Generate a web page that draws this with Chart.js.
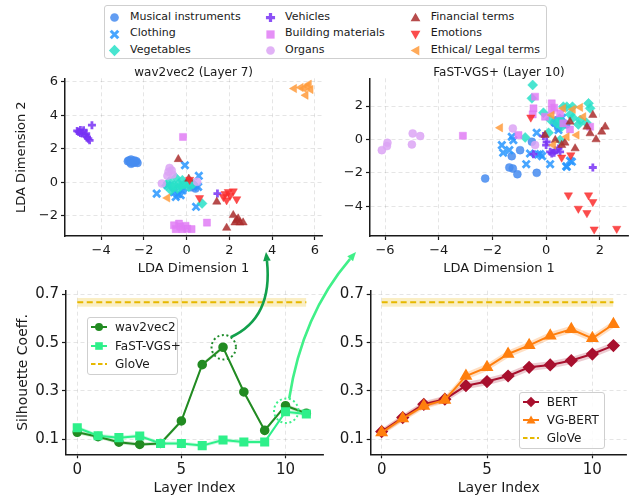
<!DOCTYPE html>
<html>
<head>
<meta charset="utf-8">
<script src="https://cdn.jsdelivr.net/npm/chart.js@4.4.1/dist/chart.umd.min.js"></script>
<style>
  body { margin: 0; background: #fff; }
  #fig { position: relative; width: 636px; height: 497px; overflow: hidden; font-family: "DejaVu Sans", sans-serif; color: #1a1a1a; }
  #fig canvas { position: absolute; }
  .box { position: absolute; border: 1px solid #cfcfcf; border-radius: 3px; background: rgba(255,255,255,0.85); box-sizing: border-box; }
  .txt { position: absolute; white-space: nowrap; line-height: 1; transform: translateY(-50%); }
  .mk { position: absolute; overflow: visible; }
</style>
</head>
<body>
<div id="fig">
  <canvas id="tl" width="330" height="216" style="left:0;top:60px;width:330px;height:216px"></canvas>
  <canvas id="tr" width="306" height="216" style="left:330px;top:60px;width:306px;height:216px"></canvas>
  <canvas id="bl" width="330" height="219" style="left:0;top:278px;width:330px;height:219px"></canvas>
  <canvas id="br" width="306" height="219" style="left:330px;top:278px;width:306px;height:219px"></canvas>
  <canvas id="over" width="636" height="497" style="left:0;top:0;width:636px;height:497px;pointer-events:none"></canvas>
</div>
<script>
Chart.defaults.font.family = "'DejaVu Sans', sans-serif";
Chart.defaults.color = '#1a1a1a';

// categories of the LDA scatter plots
const cats = ["Musical instruments", "Clothing", "Vegetables", "Vehicles", "Building materials", "Organs", "Financial terms", "Emotions", "Ethical/ Legal terms"];
const catColors = ['rgba(70,140,240,0.85)', 'rgba(40,150,255,0.85)', 'rgba(40,225,200,0.85)', 'rgba(120,50,245,0.85)', 'rgba(225,125,245,0.85)', 'rgba(220,165,245,0.85)', 'rgba(170,45,45,0.85)', 'rgba(250,45,45,0.85)', 'rgba(255,155,60,0.85)'];
const catStyles = ['circle', 'crossRot', 'rectRot', 'cross', 'rect', 'circle', 'triangle', 'triangle', 'triangle'];
const catShapes = ['circle', 'x', 'diamond', 'plus', 'square', 'circle', 'up', 'down', 'left'];
const catRot = [0, 0, 0, 0, 0, 0, 0, 180, 270];
const catRadius = [4, 5, 5, 4, 5, 4, 4.8, 4.8, 4.8];
const catBorder = [0.5, 2.8, 0.5, 2.8, 0.5, 0.5, 0.5, 0.5, 0.5];

// wav2vec2 (Layer 7), [LDA dim 1, LDA dim 2]
const w2v_music = [[-2.75,1.25],[-2.7,1.3],[-2.65,1.2],[-2.6,1.35],[-2.55,1.2],[-2.5,1.25],[-2.45,1.3],[-2.4,1.2],[-2.35,1.25],[-2.3,1.15],[-2.5,1.15],[-2.6,1.1],[0.41,-0.38],[0.34,-0.2],[0.2,-0.3]];
const w2v_cloth = [[-0.08,1.01],[0.57,0.38],[-1.4,-0.68],[0.44,-1.47],[-0.28,-0.78],[-0.51,-0.88],[-0.2,-0.49],[0.26,-0.18],[0.54,-0.28],[-0.9,-0.18],[-0.6,-0.6],[-0.4,-0.7],[-0.15,-0.35]];
const w2v_veg = [[-0.82,0.02],[-0.59,-0.18],[-0.36,-0.08],[-0.12,-0.14],[0.1,-0.28],[-0.74,-0.48],[-0.43,-0.38],[-0.2,0.12],[0.18,0.02],[0.72,-1.27],[-0.51,0.26],[-0.65,-0.3],[-0.3,-0.25],[0.0,-0.05],[0.3,-0.1],[-0.95,-0.2]];
const w2v_vehic = [[-5.12,3.06],[-4.97,3.12],[-4.82,3.1],[-4.89,2.9],[-4.74,2.8],[-4.66,2.7],[-4.54,2.5],[-4.97,2.94],[-4.7,2.9],[-4.43,3.4],[-5.05,3.0],[-4.6,2.6],[1.44,-0.68]];
const w2v_build = [[-0.17,2.7],[-0.36,-2.47],[-0.51,-2.8],[-0.2,-2.8],[0.03,-2.77],[0.23,-2.8],[-0.59,-2.57],[-0.05,-2.6],[0.95,-2.41],[-0.3,-2.65]];
const w2v_organ = [[-0.8,0.85],[-0.85,0.62],[-0.66,0.46],[-0.9,0.38],[-1.16,-0.08],[0.49,0.02],[-0.7,0.7]];
const w2v_fin = [[-0.39,1.37],[1.41,-1.17],[2.18,-1.97],[2.34,-2.27],[2.49,-2.41],[2.64,-2.41],[2.26,-2.41],[1.87,-2.73],[2.41,-2.17],[0.1,0.2]];
const w2v_emo = [[0.14,0.15],[0.6,-0.94],[1.95,-0.58],[2.18,-0.54],[1.72,-0.88],[1.87,-1.07],[2.34,-1.01],[2.03,-0.8],[1.8,-0.7]];
const w2v_eth = [[5.03,5.59],[5.34,5.65],[5.64,5.73],[5.8,5.53],[5.57,5.19],[5.49,5.6],[5.72,5.85],[-0.9,-0.94]];

// FaST-VGS+ (Layer 10)
const fast_music = [[-0.97,-0.64],[-1.37,-1.68],[-1.24,-1.74],[-1.07,-2.08],[-0.35,-2.0],[-2.27,-2.34],[-0.53,-0.14],[0.4,1.16],[-1.28,-1.0],[0.3,1.0],[0.55,1.1],[0.75,0.9],[0.45,0.7]];
const fast_cloth = [[-1.65,-0.34],[-1.28,0.16],[-1.22,-0.04],[-1.37,-0.64],[-1.6,-0.8],[-0.35,0.4],[-0.6,-0.84],[-0.22,-0.88],[-0.15,-1.0],[-0.74,-1.48],[0.15,-1.48],[0.75,-1.6],[0.89,-1.28],[0.46,0.56],[0.96,-1.34],[0.77,-1.64],[0.6,1.3],[0.35,1.0],[-0.3,-0.9]];
const fast_veg = [[-0.5,3.26],[-0.53,2.46],[-0.1,1.6],[0.15,1.2],[1.58,2.16],[1.64,1.86],[0.77,1.96],[0.52,1.16],[0.58,0.76],[0.09,0.4],[-0.78,0.12],[0.52,-0.04],[1.27,1.16],[1.2,0.9],[0.4,0.96],[1.0,1.3],[0.9,1.5],[1.5,1.0],[0.98,1.96],[0.64,1.96]];
const fast_vehic = [[-0.47,-0.88],[0.02,-0.14],[0.15,-0.74],[0.34,-0.64],[0.52,-0.74],[0.0,-0.34],[0.21,-0.84],[0.46,-0.54],[1.74,-1.68],[0.3,-0.8],[-0.1,0.2]];
const fast_build = [[-0.41,2.56],[-0.47,1.86],[0.21,2.16],[0.21,1.76],[0.52,1.56],[-0.04,1.36],[-1.03,0.26],[1.64,0.76],[0.64,0.96],[0.89,0.6],[-3.1,0.22],[-0.5,1.5],[0.3,1.9]];
const fast_organ = [[-4.97,0.36],[-4.69,0.2],[-5.0,-0.3],[-5.91,-0.2],[-5.93,-0.4],[-6.12,-0.64],[-1.24,0.66],[-0.41,-0.34]];
const fast_fin = [[1.74,1.46],[2.2,0.76],[2.07,0.46],[1.86,0.0],[1.52,0.76],[1.64,0.36],[1.08,-0.54],[0.89,1.06],[0.34,-0.04],[0.58,-0.34],[-0.04,0.26],[0.7,-0.2]];
const fast_emo = [[-0.57,1.32],[0.58,-1.08],[0.92,-0.94],[0.83,-3.34],[1.58,-3.34],[1.74,-3.74],[1.2,-4.14],[1.52,-4.4],[1.79,-5.38],[2.63,-5.34]];
const fast_eth = [[-1.71,0.7],[1.27,1.92],[0.21,1.46],[0.77,0.16],[1.14,0.26],[1.39,1.36],[0.64,1.86],[0.27,-0.34],[1.0,1.8]];

// silhouette coefficients per layer
const layers = [0, 1, 2, 3, 4, 5, 6, 7, 8, 9, 10, 11];
const wav2vecSil = [0.129, 0.111, 0.088, 0.079, 0.083, 0.176, 0.409, 0.481, 0.296, 0.137, 0.239, 0.208];
const wav2vecErr = [0.008, 0.008, 0.008, 0.008, 0.008, 0.008, 0.008, 0.008, 0.008, 0.008, 0.008, 0.008];
const fastSil = [0.148, 0.115, 0.107, 0.114, 0.083, 0.083, 0.074, 0.097, 0.089, 0.089, 0.214, 0.205];
const fastErr = [0.008, 0.008, 0.008, 0.008, 0.008, 0.008, 0.008, 0.008, 0.008, 0.008, 0.008, 0.008];
const bertSil = [0.132, 0.19, 0.245, 0.266, 0.322, 0.339, 0.362, 0.398, 0.408, 0.426, 0.453, 0.488];
const bertErr = [0.012, 0.013, 0.013, 0.014, 0.015, 0.015, 0.015, 0.015, 0.015, 0.015, 0.015, 0.015];
const vgbertSil = [0.128, 0.186, 0.238, 0.263, 0.362, 0.398, 0.453, 0.489, 0.529, 0.555, 0.518, 0.576];
const vgbertErr = [0.012, 0.013, 0.013, 0.014, 0.015, 0.015, 0.015, 0.015, 0.015, 0.015, 0.015, 0.015];
const gloveX = [0, 11];
const gloveSil = [0.667, 0.667];
const gloveErr = [0.018, 0.018];

const silTicks = [0.1, 0.3, 0.5, 0.7];
const layerTicks = [0, 5, 10];

const minusFmt = v => v < 0 ? '\u2212' + Math.abs(v) : String(v);

// title centred over the plot area (matplotlib style)
const areaTitle = {
  id: 'areaTitle',
  afterDraw(chart, args, opts) {
    if (!opts.text) return;
    const {ctx, chartArea} = chart;
    ctx.save();
    ctx.font = "12px 'DejaVu Sans'";
    ctx.fillStyle = '#1a1a1a';
    ctx.textAlign = 'center';
    ctx.textBaseline = 'middle';
    ctx.fillText(opts.text, (chartArea.left + chartArea.right) / 2, chartArea.top - opts.gap);
    ctx.restore();
  }
};

function axisOpts(range, ticks, fmt, tickSize, title, titleSize, size, dir) {
  return {
    type: 'linear', min: range[0], max: range[1],
    afterBuildTicks: s => { s.ticks = ticks.map(v => ({value: v})); },
    afterFit: s => { if (dir === 'x') s.height = size; else s.width = size; },
    ticks: { callback: fmt, font: {size: tickSize}, color: '#1a1a1a', padding: 3, maxRotation: 0, autoSkip: false },
    grid: { color: 'rgba(0,0,0,0.13)', lineWidth: 0.8, tickColor: '#1a1a1a', tickLength: 4, tickWidth: 1.2, tickBorderDash: [] },
    border: { display: true, color: '#1a1a1a', width: 1.5, dash: [4, 3] },
    title: { display: !!title, text: title, font: {size: titleSize}, padding: 0, color: '#1a1a1a' }
  };
}

function scatterChart(id, groups, xr, yr, xt, yt, pad, yW, title, yTitle) {
  const sets = groups.map((pts, i) => ({
    label: cats[i],
    data: pts.map(p => ({x: p[0], y: p[1]})),
    pointStyle: catStyles[i],
    pointRotation: catRot[i],
    pointRadius: catRadius[i],
    pointBorderWidth: catBorder[i],
    pointBackgroundColor: catColors[i],
    pointBorderColor: catColors[i],
    order: cats.length - i
  }));
  return new Chart(document.getElementById(id), {
    type: 'scatter',
    data: { datasets: sets },
    options: {
      responsive: false, animation: false, devicePixelRatio: 1,
      layout: { padding: pad },
      plugins: { legend: {display: false}, tooltip: {enabled: false}, areaTitle: {text: title, gap: 5} },
      scales: {
        x: axisOpts(xr, xt, minusFmt, 13, 'LDA Dimension 1', 13, 40, 'x'),
        y: axisOpts(yr, yt, minusFmt, 13, yTitle, 13, yW, 'y')
      }
    },
    plugins: [areaTitle]
  });
}

const pts = (xs, ys) => xs.map((x, i) => ({x: x, y: ys[i]}));

function bandSets(xs, vals, errs, fill, order) {
  return [
    { data: pts(xs, vals.map((v, i) => v + errs[i])), borderWidth: 0, pointRadius: 0, fill: '+1', backgroundColor: fill, order: order },
    { data: pts(xs, vals.map((v, i) => v - errs[i])), borderWidth: 0, pointRadius: 0, fill: false, order: order }
  ];
}

function lineChart(id, sets, xr, pad, yW, yTitle) {
  return new Chart(document.getElementById(id), {
    type: 'line',
    data: { datasets: sets },
    options: {
      responsive: false, animation: false, devicePixelRatio: 1,
      layout: { padding: pad },
      plugins: { legend: {display: false}, tooltip: {enabled: false} },
      elements: { line: { tension: 0 } },
      scales: {
        x: axisOpts(xr, layerTicks, v => String(v), 15, 'Layer Index', 14, 42.7, 'x'),
        y: axisOpts([0.038, 0.715], silTicks, v => v.toFixed(1), 15, yTitle, 14, yW, 'y')
      }
    }
  });
}

const chartTL = scatterChart('tl', [w2v_music, w2v_cloth, w2v_veg, w2v_vehic, w2v_build, w2v_organ, w2v_fin, w2v_emo, w2v_eth],
  [-5.69, 6.34], [-3.21, 6.2], [-4, -2, 0, 2, 4, 6], [-2, 0, 2, 4, 6],
  {left: 13.9, right: 5, top: 18.3, bottom: 0}, 51.1, 'wav2vec2 (Layer 7)', 'LDA Dimension 2');

const chartTR = scatterChart('tr', [fast_music, fast_cloth, fast_veg, fast_vehic, fast_build, fast_organ, fast_fin, fast_emo, fast_eth],
  [-6.56, 3.05], [-5.78, 3.66], [-6, -4, -2, 0, 2], [-4, -2, 0, 2],
  {left: 0, right: 8, top: 18.3, bottom: 0}, 40, 'FaST-VGS+ (Layer 10)', '');

const chartBL = lineChart('bl', [
  ...bandSets(gloveX, gloveSil, gloveErr, 'rgba(240,200,60,0.3)', 10),
  ...bandSets(layers, wav2vecSil, wav2vecErr, 'rgba(34,139,34,0.2)', 9),
  ...bandSets(layers, fastSil, fastErr, 'rgba(46,240,138,0.25)', 8),
  { label: 'GloVe', data: pts(gloveX, gloveSil), borderColor: '#e6b800', borderWidth: 2, borderDash: [6, 3.5], pointRadius: 0, order: 3 },
  { label: 'wav2vec2', data: pts(layers, wav2vecSil), borderColor: '#228b22', backgroundColor: '#228b22', borderWidth: 2, pointStyle: 'circle', pointRadius: 3.8, order: 1 },
  { label: 'FaST-VGS+', data: pts(layers, fastSil), borderColor: '#2ef08a', backgroundColor: '#2ef08a', borderWidth: 2, pointStyle: 'rect', pointRadius: 5, order: 0 }
], [-0.54, 11.8], {left: 15.1, right: 5, top: 12.7, bottom: 0}, 50.9, 'Silhouette Coeff.');

const chartBR = lineChart('br', [
  ...bandSets(gloveX, gloveSil, gloveErr, 'rgba(240,200,60,0.3)', 10),
  ...bandSets(layers, bertSil, bertErr, 'rgba(168,16,46,0.22)', 9),
  ...bandSets(layers, vgbertSil, vgbertErr, 'rgba(255,127,14,0.25)', 8),
  { label: 'GloVe', data: pts(gloveX, gloveSil), borderColor: '#e6b800', borderWidth: 2, borderDash: [6, 3.5], pointRadius: 0, order: 3 },
  { label: 'BERT', data: pts(layers, bertSil), borderColor: '#a8102e', backgroundColor: '#a8102e', borderWidth: 2, pointStyle: 'rectRot', pointRadius: 5.2, order: 1 },
  { label: 'VG-BERT', data: pts(layers, vgbertSil), borderColor: '#ff7f0e', backgroundColor: '#ff7f0e', borderWidth: 2, pointStyle: 'triangle', pointRadius: 5.5, order: 0 }
], [-0.52, 11.63], {left: 0, right: 9.3, top: 12.7, bottom: 0}, 40.7, '');

// ---------- html legends ----------
const fig = document.getElementById('fig');
const over = document.getElementById('over');

function markerSvg(shape, color, line, dash, px) {
  let s = '';
  if (line) {
    s += '<line x1="0" y1="8" x2="16" y2="8" stroke="' + color + '" stroke-width="2"' + (dash ? ' stroke-dasharray="4.5,2.5"' : '') + '/>';
  }
  const o = line ? 2 : 0;
  const t = (x, y) => (x + o) + ',' + (y + o);
  if (shape === 'circle') s += '<circle cx="' + (6 + o) + '" cy="' + (6 + o) + '" r="4" fill="' + color + '"/>';
  if (shape === 'x') s += '<path d="M' + t(2.5, 2.5) + 'L' + t(9.5, 9.5) + 'M' + t(9.5, 2.5) + 'L' + t(2.5, 9.5) + '" stroke="' + color + '" stroke-width="2.8"/>';
  if (shape === 'plus') s += '<path d="M' + t(6, 1.8) + 'L' + t(6, 10.2) + 'M' + t(1.8, 6) + 'L' + t(10.2, 6) + '" stroke="' + color + '" stroke-width="3"/>';
  if (shape === 'diamond') s += '<polygon points="' + [t(6, 0.8), t(11.2, 6), t(6, 11.2), t(0.8, 6)].join(' ') + '" fill="' + color + '"/>';
  if (shape === 'square') s += '<rect x="' + (2.2 + o) + '" y="' + (2.2 + o) + '" width="7.6" height="7.6" fill="' + color + '"/>';
  if (shape === 'up') s += '<polygon points="' + [t(6, 1.5), t(10.5, 9.5), t(1.5, 9.5)].join(' ') + '" fill="' + color + '"/>';
  if (shape === 'down') s += '<polygon points="' + [t(1.5, 2.5), t(10.5, 2.5), t(6, 10.5)].join(' ') + '" fill="' + color + '"/>';
  if (shape === 'left') s += '<polygon points="' + [t(1.5, 6), t(9.5, 1.5), t(9.5, 10.5)].join(' ') + '" fill="' + color + '"/>';
  const w = line ? 16 : 12, h = line ? 16 : 12;
  const dw = px || w;
  return '<svg width="' + dw + '" height="' + dw + '" viewBox="0 0 ' + w + ' ' + h + '">' + s + '</svg>';
}

function addBox(x, y, w, h) {
  const d = document.createElement('div');
  d.className = 'box';
  d.style.cssText = 'left:' + x + 'px;top:' + y + 'px;width:' + w + 'px;height:' + h + 'px';
  fig.insertBefore(d, over);
}
function addItem(mx, tx, y, svg, text, size, mw) {
  const m = document.createElement('div');
  m.className = 'mk';
  m.style.cssText = 'left:' + (mx - mw / 2) + 'px;top:' + (y - mw / 2) + 'px;width:' + mw + 'px;height:' + mw + 'px';
  m.innerHTML = svg;
  fig.insertBefore(m, over);
  const t = document.createElement('div');
  t.className = 'txt';
  t.style.cssText = 'left:' + tx + 'px;top:' + y + 'px;font-size:' + size + 'px';
  t.textContent = text;
  fig.insertBefore(t, over);
}

// top legend: 3 columns
addBox(103.5, 5.3, 443.5, 54);
const colMk = [114.6, 270.7, 415.7], colTx = [130, 285, 430.7], rowY = [15.7, 32.3, 48.7];
cats.forEach((c, i) => {
  const col = Math.floor(i / 3), row = i % 3;
  addItem(colMk[col], colTx[col], rowY[row], markerSvg(catShapes[i], catColors[i], false, false, 13), c, 11, 13);
});

// bottom-left legend
addBox(87.3, 316.7, 91, 58.3);
addItem(99.2, 115, 327.3, markerSvg('circle', '#228b22', true), 'wav2vec2', 12, 16);
addItem(99.2, 115, 346, markerSvg('square', '#2ef08a', true), 'FaST-VGS+', 12, 16);
addItem(99.2, 115, 364, markerSvg('none', '#e6b800', true, true), 'GloVe', 12, 16);

// bottom-right legend
addBox(519.3, 391.7, 85.7, 57.6);
addItem(530.5, 546.7, 401.7, markerSvg('diamond', '#a8102e', true), 'BERT', 12, 16);
addItem(530.5, 546.7, 420, markerSvg('up', '#ff7f0e', true), 'VG-BERT', 12, 16);
addItem(530.5, 546.7, 437.7, markerSvg('none', '#e6b800', true, true), 'GloVe', 12, 16);

// ---------- annotation overlay: dotted circles + curved arrows ----------
function drawOverlay() {
  const ctx = over.getContext('2d');
  const xs = chartBL.scales.x, ys = chartBL.scales.y;
  const ox = 0, oy = 278;
  const c1 = {x: ox + xs.getPixelForValue(7) + 0.7, y: oy + ys.getPixelForValue(wav2vecSil[7])};
  const c2 = {x: ox + xs.getPixelForValue(10) + 0.7, y: oy + (ys.getPixelForValue(wav2vecSil[10]) + ys.getPixelForValue(fastSil[10])) / 2 + 2};
  const r = 12.2;

  function dotted(c, color) {
    ctx.save();
    ctx.strokeStyle = color;
    ctx.lineWidth = 2;
    ctx.setLineDash([2, 2.6]);
    ctx.beginPath();
    ctx.arc(c.x, c.y, r, 0, Math.PI * 2);
    ctx.stroke();
    ctx.restore();
  }
  function arrow(p0, cp, tip, color) {
    const ang = Math.atan2(tip.y - cp.y, tip.x - cp.x);
    const hl = 9, hw = 3.8;
    const base = {x: tip.x - Math.cos(ang) * hl, y: tip.y - Math.sin(ang) * hl};
    ctx.save();
    ctx.strokeStyle = color;
    ctx.fillStyle = color;
    ctx.lineWidth = 2.6;
    ctx.beginPath();
    ctx.moveTo(p0.x, p0.y);
    ctx.quadraticCurveTo(cp.x, cp.y, base.x, base.y);
    ctx.stroke();
    ctx.beginPath();
    ctx.moveTo(tip.x, tip.y);
    ctx.lineTo(base.x + Math.sin(ang) * hw, base.y - Math.cos(ang) * hw);
    ctx.lineTo(base.x - Math.sin(ang) * hw, base.y + Math.cos(ang) * hw);
    ctx.closePath();
    ctx.fill();
    ctx.restore();
  }

  dotted(c1, '#1e8c2a');
  dotted(c2, '#3ef08a');
  const a1 = -55 * Math.PI / 180;
  arrow({x: c1.x + r * Math.cos(a1), y: c1.y + r * Math.sin(a1)}, {x: 273, y: 318}, {x: 266, y: 252}, '#12a04c');
  arrow({x: c2.x + 3, y: c2.y - r}, {x: 302, y: 315}, {x: 356, y: 252}, '#40f088');
}
drawOverlay();
</script>
</body>
</html>
